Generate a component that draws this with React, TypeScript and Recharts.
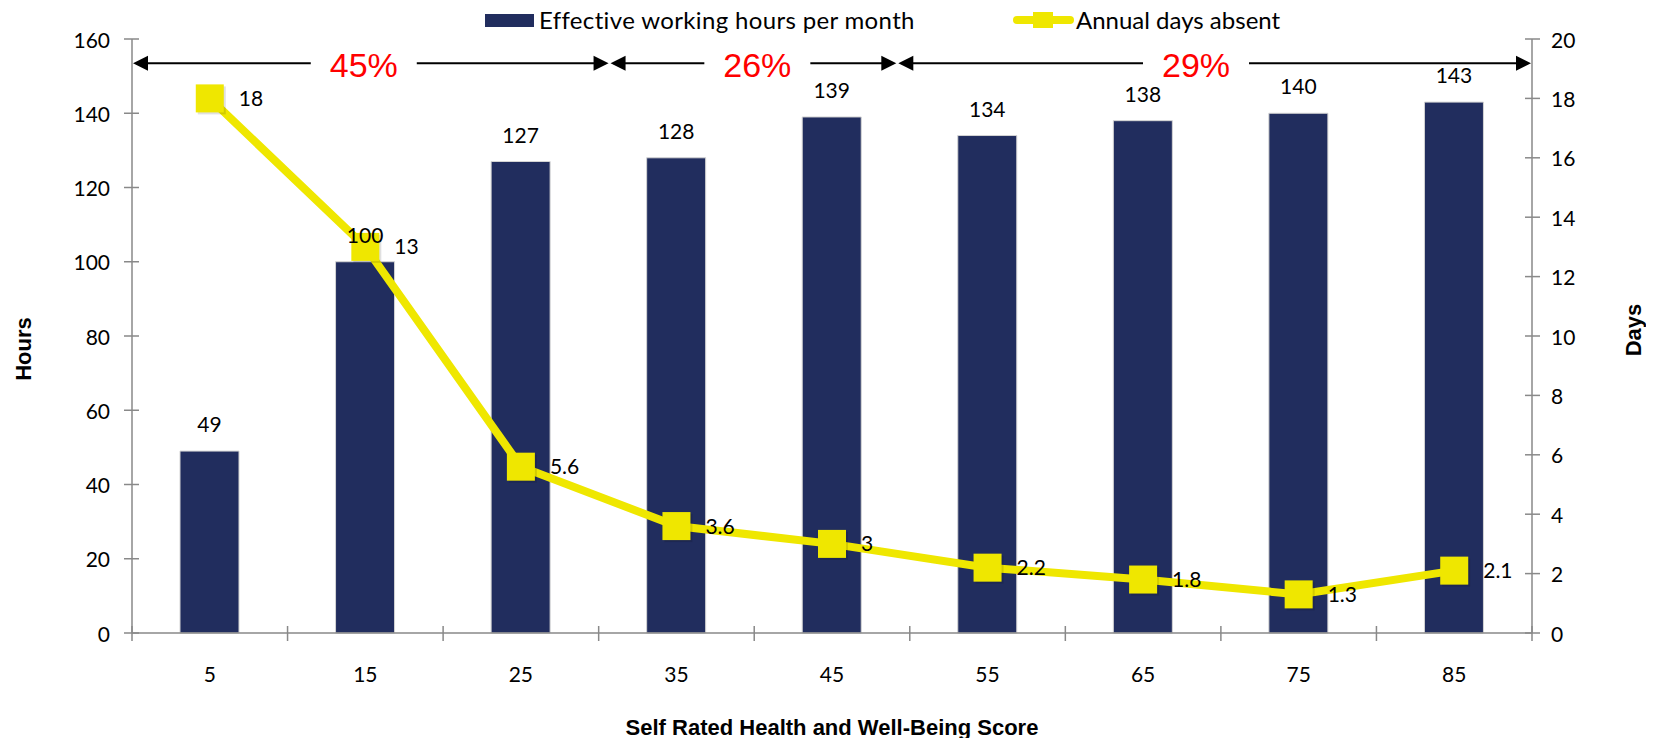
import React from 'react';
import { ComposedChart, Bar, Line, XAxis, YAxis, LabelList, ReferenceLine, Legend, Label } from 'recharts';

const categories = ['5', '15', '25', '35', '45', '55', '65', '75', '85'];
const scores = [5, 15, 25, 35, 45, 55, 65, 75, 85];
const hours = [49, 100, 127, 128, 139, 134, 138, 140, 143];
const daysAbsent = [18, 13, 5.6, 3.6, 3, 2.2, 1.8, 1.3, 2.1];
const hoursTicks = [0, 20, 40, 60, 80, 100, 120, 140, 160];
const daysTicks = [0, 2, 4, 6, 8, 10, 12, 14, 16, 18, 20];
const boundaryScores = [0, 10, 20, 30, 40, 50, 60, 70, 80, 90];
const spanStarts = [0, 30.7, 49.2];
const spanEnds = [30.7, 49.2, 90];
const spanLabels = ['45%', '26%', '29%'];
const spanLabelAt = [14.9, 40.2, 68.4];
const spanLevel = 153.5;

const data = categories.map((c, i) => ({ score: c, hours: hours[i], days: daysAbsent[i] }));

const FONT = 'Lato, "Open Sans", sans-serif';
const NAVY = '#212D5E';
const YELLOW = '#EFE700';
const AXIS = '#898989';

// map a score value to pixel x using the category centres given by a segment from first to last category
const scoreToX = (x1: number, x2: number, s: number) => {
  const first = scores[0];
  const last = scores[scores.length - 1];
  return x1 + ((s - first) / (last - first)) * (x2 - x1);
};

const LeftTick = (p: any) => (
  <g>
    <line x1={p.x - 8} x2={p.x + 7} y1={p.y} y2={p.y} stroke={AXIS} strokeWidth={1.5} />
    <text x={p.x - 22} y={p.y} textAnchor="end" dominantBaseline="central" fontSize={21} fontFamily={FONT} fill="#000">
      {p.payload.value}
    </text>
  </g>
);

const RightTick = (p: any) => (
  <g>
    <line x1={p.x - 7} x2={p.x + 8} y1={p.y} y2={p.y} stroke={AXIS} strokeWidth={1.5} />
    <text x={p.x + 19} y={p.y} textAnchor="start" dominantBaseline="central" fontSize={21} fontFamily={FONT} fill="#000">
      {p.payload.value}
    </text>
  </g>
);

const CatTick = (p: any) => (
  <text x={p.x} y={p.y + 40} textAnchor="middle" dominantBaseline="central" fontSize={21} fontFamily={FONT} fill="#000">
    {p.payload.value}
  </text>
);

const BoundaryTicks = (p: any) => {
  const { x1, x2, y1 } = p;
  return (
    <g>
      {boundaryScores.map((s) => {
        const x = scoreToX(x1, x2, s);
        return <line key={s} x1={x} x2={x} y1={y1 - 7} y2={y1 + 8} stroke={AXIS} strokeWidth={1.5} />;
      })}
    </g>
  );
};

const SpanArrows = (p: any) => {
  const { x1: c1, x2: c2, y1: y } = p;
  const ah = 15;
  const hh = 7.5;
  return (
    <g>
      {spanLabels.map((lab, i) => {
        const a = scoreToX(c1, c2, spanStarts[i]);
        const b = scoreToX(c1, c2, spanEnds[i]);
        const lx = scoreToX(c1, c2, spanLabelAt[i]);
        const gap = 53;
        return (
          <g key={lab}>
            <line x1={a + 4} x2={lx - gap} y1={y} y2={y} stroke="#000" strokeWidth={2} />
            <line x1={lx + gap} x2={b - 4} y1={y} y2={y} stroke="#000" strokeWidth={2} />
            <polygon points={`${a + 1},${y} ${a + 1 + ah},${y - hh} ${a + 1 + ah},${y + hh}`} fill="#000" />
            <polygon points={`${b - 1},${y} ${b - 1 - ah},${y - hh} ${b - 1 - ah},${y + hh}`} fill="#000" />
            <text x={lx} y={y + 2} textAnchor="middle" dominantBaseline="central" fontSize={34}
              fontFamily='"Liberation Sans", Arial, sans-serif' fill="#FF0000">
              {lab}
            </text>
          </g>
        );
      })}
    </g>
  );
};

const SquareDot = (p: any) => {
  const s = 28;
  if (p.cx == null || p.cy == null) return null;
  return (
    <g key={`d${p.index}`}>
      <rect x={p.cx - s / 2 + 2} y={p.cy - s / 2 + 2} width={s} height={s} fill="#000" opacity={0.12} />
      <rect x={p.cx - s / 2} y={p.cy - s / 2} width={s} height={s} fill={YELLOW} />
    </g>
  );
};

const LegendContent = () => (
  <div style={{ position: 'relative', height: 30, fontFamily: FONT, fontSize: 24, color: '#000' }}>
    <div style={{ position: 'absolute', left: 477, top: 6, width: 49, height: 13, background: NAVY }} />
    <span style={{ position: 'absolute', left: 531, top: 0, lineHeight: '24px', whiteSpace: 'nowrap', letterSpacing: '0.35px' }}>
      Effective working hours per month
    </span>
    <svg style={{ position: 'absolute', left: 1005, top: 0 }} width={62} height={26}>
      <line x1={4} x2={57} y1={12} y2={12} stroke={YELLOW} strokeWidth={8} strokeLinecap="round" />
      <rect x={20} y={4} width={20} height={16} fill={YELLOW} />
    </svg>
    <span style={{ position: 'absolute', left: 1068, top: 0, lineHeight: '24px', whiteSpace: 'nowrap' }}>
      Annual days absent
    </span>
  </div>
);

const HoursTitle = (p: any) => {
  const vb = p.viewBox;
  const cx = vb.x - 49;
  const cy = vb.y + vb.height / 2 + 13;
  return (
    <text x={cx} y={cy} transform={`rotate(-90 ${cx} ${cy})`} textAnchor="middle" dominantBaseline="central"
      fontSize={22} fontWeight="bold" fontFamily='"Liberation Sans", Arial, sans-serif' fill="#000">
      Hours
    </text>
  );
};

const DaysTitle = (p: any) => {
  const vb = p.viewBox;
  const cx = vb.x + 101;
  const cy = vb.y + vb.height / 2 - 6;
  return (
    <text x={cx} y={cy} transform={`rotate(-90 ${cx} ${cy})`} textAnchor="middle" dominantBaseline="central"
      fontSize={22} fontWeight="bold" fontFamily='"Liberation Sans", Arial, sans-serif' fill="#000">
      Days
    </text>
  );
};

const XTitle = (p: any) => {
  const vb = p.viewBox;
  const cx = vb.x + vb.width / 2;
  const cy = vb.y + 94;
  return (
    <text x={cx} y={cy} textAnchor="middle" dominantBaseline="central"
      fontSize={22} fontWeight="bold" fontFamily='"Liberation Sans", Arial, sans-serif' fill="#000">
      Self Rated Health and Well-Being Score
    </text>
  );
};

export default function App() {
  const firstCat = categories[0];
  const lastCat = categories[categories.length - 1];
  return (
    <div style={{ width: 1638, height: 730, position: 'relative' }}>
      <ComposedChart width={1638} height={730} data={data} margin={{ top: 31, right: 54, bottom: 104, left: 64 }}>
        <XAxis xAxisId="cat" dataKey="score" type="category" interval={0} height={1}
          axisLine={{ stroke: AXIS, strokeWidth: 1.5 }} tickLine={false} tickSize={0} tickMargin={0} tick={CatTick}>
          <Label content={XTitle} />
        </XAxis>
        <YAxis yAxisId="left" orientation="left" width={60} domain={[0, 160]} ticks={hoursTicks} interval={0}
          axisLine={{ stroke: AXIS, strokeWidth: 1.5 }} tickLine={false} tickSize={0} tickMargin={0} tick={LeftTick}>
          <Label content={HoursTitle} />
        </YAxis>
        <YAxis yAxisId="right" orientation="right" width={60} domain={[0, 20]} ticks={daysTicks} interval={0}
          axisLine={{ stroke: AXIS, strokeWidth: 1.5 }} tickLine={false} tickSize={0} tickMargin={0} tick={RightTick}>
          <Label content={DaysTitle} />
        </YAxis>
        <Legend verticalAlign="middle" layout="horizontal" wrapperStyle={{ top: 0, left: 0, width: 1638 }} content={LegendContent} />
        <Bar xAxisId="cat" yAxisId="left" dataKey="hours" barSize={59} fill={NAVY} stroke="#d4d4d4" strokeWidth={1}
          isAnimationActive={false}>
          <LabelList dataKey="hours" position="top" offset={19} fontSize={21} fontFamily={FONT} fill="#000" />
        </Bar>
        <Line xAxisId="cat" yAxisId="right" dataKey="days" type="linear" stroke={YELLOW} strokeWidth={8}
          dot={SquareDot} activeDot={false} isAnimationActive={false}>
          <LabelList dataKey="days" position="right" offset={29} fontSize={21} fontFamily={FONT} fill="#000" />
        </Line>
        <ReferenceLine xAxisId="cat" yAxisId="left" ifOverflow="visible"
          segment={[{ x: firstCat, y: 0 }, { x: lastCat, y: 0 }]} shape={BoundaryTicks} />
        <ReferenceLine xAxisId="cat" yAxisId="left" ifOverflow="visible"
          segment={[{ x: firstCat, y: spanLevel }, { x: lastCat, y: spanLevel }]} shape={SpanArrows} />
      </ComposedChart>
    </div>
  );
}
